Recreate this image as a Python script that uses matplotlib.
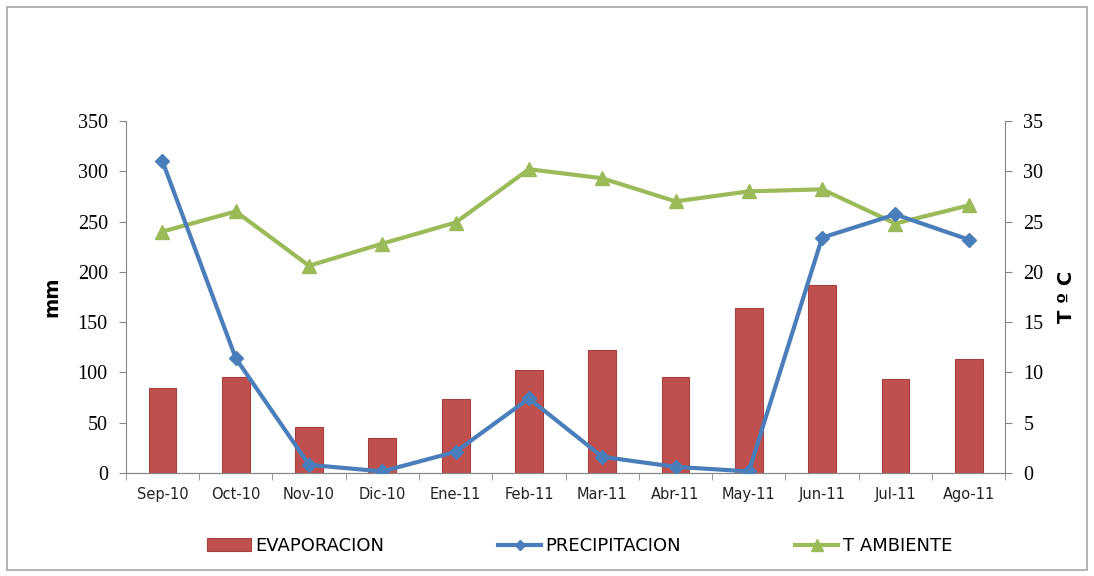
import matplotlib.pyplot as plt
import numpy as np
from matplotlib.patches import Rectangle

months = ['Sep-10', 'Oct-10', 'Nov-10', 'Dic-10', 'Ene-11', 'Feb-11',
          'Mar-11', 'Abr-11', 'May-11', 'Jun-11', 'Jul-11', 'Ago-11']
evaporacion = [84, 95, 46, 35, 73, 102, 122, 95, 164, 187, 93, 113]
precipitacion = [310, 114, 8, 1.5, 21, 74, 16, 6, 1.5, 234, 257, 232]
t_ambiente = [24.0, 26.0, 20.6, 22.8, 24.9, 30.2, 29.3, 27.0, 28.0, 28.2, 24.8, 26.6]

red = '#C0504D'
blue = '#4A7EBB'
green = '#9BBB59'
axis_gray = '#868686'

fig = plt.figure(figsize=(10.94, 5.76), dpi=100)
fig.patches.append(Rectangle((0.006, 0.01), 0.988, 0.978, transform=fig.transFigure,
                             fill=False, edgecolor='#A6A6A6', linewidth=1.2))

ax = fig.add_axes([0.115, 0.179, 0.804, 0.611])
x = np.arange(len(months))

bars = ax.bar(x, evaporacion, width=0.38, color=red, edgecolor='#A5403D',
              linewidth=0.8, label='EVAPORACION', zorder=2)
prec, = ax.plot(x, precipitacion, color=blue, linewidth=3, marker='D',
                markersize=7, label='PRECIPITACION', zorder=4)
ax.set_ylim(0, 350)
ax.set_yticks(range(0, 351, 50))
ax.set_xlim(-0.5, len(months) - 0.5)
ax.set_xticks(x)
ax.set_xticklabels(months, fontsize=10.5, family='DejaVu Sans')
ax.set_xticks(np.arange(-0.5, len(months), 1), minor=True)
ax.tick_params(axis='x', which='major', length=0, pad=10, colors='#222222')
ax.tick_params(axis='x', which='minor', length=5, color=axis_gray)
ax.tick_params(axis='y', length=5, color=axis_gray, pad=8)
for lab in ax.get_yticklabels():
    lab.set_family('Liberation Serif')
    lab.set_fontsize(14.5)
ax.set_ylabel('mm', fontsize=14, fontweight='bold', labelpad=12)

ax2 = ax.twinx()
temp, = ax2.plot(x, t_ambiente, color=green, linewidth=3, marker='^',
                 markersize=10, label='T AMBIENTE', zorder=3)
ax2.set_ylim(0, 35)
ax2.set_yticks(range(0, 36, 5))
ax2.tick_params(axis='y', length=5, color=axis_gray, pad=8)
for lab in ax2.get_yticklabels():
    lab.set_family('Liberation Serif')
    lab.set_fontsize(14.5)
ax2.set_ylabel('T º C', fontsize=14, fontweight='bold', rotation=90, labelpad=10)

ax.set_zorder(ax2.get_zorder() + 1)
ax.patch.set_visible(False)

for a in (ax, ax2):
    a.spines['top'].set_visible(False)
    for s in ('left', 'right', 'bottom'):
        a.spines[s].set_color(axis_gray)
ax.spines['right'].set_visible(False)
ax2.spines['left'].set_visible(False)

fig.legend([bars, prec, temp], ['EVAPORACION', 'PRECIPITACION', 'T AMBIENTE'],
           loc='center', bbox_to_anchor=(0.53, 0.052), ncol=3, frameon=False,
           fontsize=13, columnspacing=6.3, handlelength=2.4, handletextpad=0.25,
           markerscale=0.8)

fig.savefig('out.png', dpi=100)
